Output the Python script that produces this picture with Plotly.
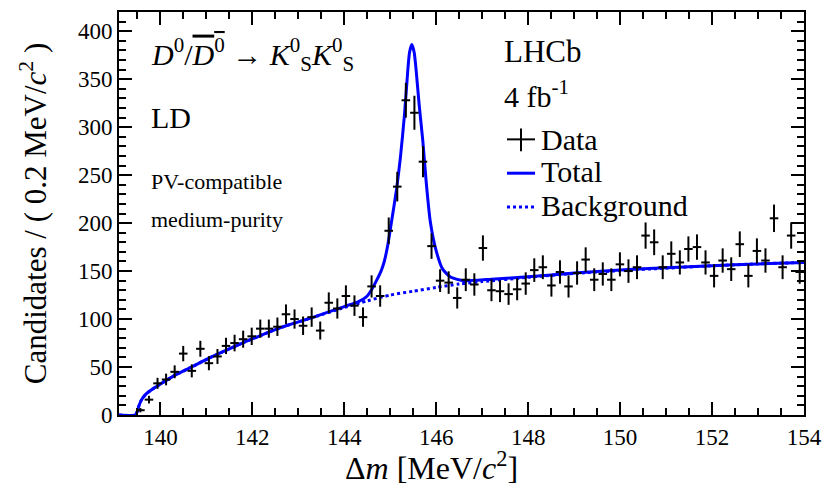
import numpy as np
import plotly.graph_objects as go

# ---------------- data ----------------
bin_low = 139.1
bin_width = 0.18625
first_bin = 2
counts = [5, 16, 33, 37, 45, 64, 46, 69, 54, 61,
          72, 75, 79, 82, 90, 90, 92, 105, 100, 93,
          102, 88, 117, 111, 124, 114, 102, 134, 124, 192,
          238, 328, 315, 264, 176, 140, 138, 122, 141, 136,
          174, 130, 129, 126, 131, 137, 151, 154, 135, 149,
          134, 148, 162, 141, 147, 141, 157, 150, 154, 187,
          180, 154, 168, 159, 173, 175, 159, 145, 161, 152,
          178, 145, 171, 161, 205, 154, 187, 149]

bkg_x = [139.1, 139.45, 139.5, 139.53, 139.58, 139.67, 139.8, 139.96, 140.32, 140.68,
         141.05, 141.41, 141.78, 142.14, 142.5, 142.8, 143.27, 144.0, 144.5, 145.0,
         145.5, 146.0, 146.5, 147.0, 148.0, 149.0, 150.0, 151.0, 152.0, 153.0, 154.0]
bkg_y = [0, 0, 4, 9, 15, 21, 26, 31, 41.5, 50,
         59, 67, 75, 82, 89, 94, 101, 112, 119, 125,
         129, 133, 136.5, 139, 143.5, 147.5, 150.5, 153, 155.5, 157.5, 159]

tot_x = [139.1, 139.45, 139.5, 139.53, 139.58, 139.67, 139.8, 139.96, 140.32, 140.68,
         141.05, 141.41, 141.78, 142.14, 142.5, 142.8, 143.27, 144.0, 144.3, 144.5,
         144.6, 144.7, 144.8, 144.87, 144.95, 145.02, 145.13, 145.22, 145.31, 145.38,
         145.42, 145.47, 145.52, 145.56, 145.63, 145.71, 145.78, 145.87, 146.0, 146.14,
         146.32, 146.6, 146.9, 147.2, 148.0, 149.0, 150.0, 151.0, 152.0, 153.0, 154.0]
tot_y = [0, 0, 4, 9, 15, 21, 26, 31, 41.5, 50,
         59, 67, 75, 82, 89, 94, 101, 113, 118, 124,
         131, 140, 150, 160, 178, 199, 233, 268, 313, 358,
         378, 386, 378, 361, 323, 285, 244, 202, 171, 152,
         143.5, 140, 140.5, 141.5, 144, 148, 151, 153.5, 155.5, 157.5, 159]

x_ticks = [140, 142, 144, 146, 148, 150, 152, 154]
y_ticks = [0, 50, 100, 150, 200, 250, 300, 350, 400]

# ---------------- figure ----------------
counts_arr = np.array(counts, dtype=float)
centers = bin_low + bin_width * (np.arange(len(counts)) + first_bin + 0.5)
errs = np.sqrt(counts_arr)

FONT = "Liberation Serif"
BLUE = "#0000ff"

fig = go.Figure()
fig.add_trace(go.Scatter(x=bkg_x, y=bkg_y, mode="lines",
                         line=dict(color=BLUE, width=3, dash="dot", shape="spline", smoothing=0.6),
                         showlegend=False, hoverinfo="skip"))
fig.add_trace(go.Scatter(x=tot_x, y=tot_y, mode="lines",
                         line=dict(color=BLUE, width=3, shape="spline", smoothing=0.6),
                         showlegend=False, hoverinfo="skip"))
fig.add_trace(go.Scatter(x=centers, y=counts_arr, mode="markers",
                         marker=dict(color="black", size=2),
                         error_y=dict(type="data", array=errs, color="black", thickness=2, width=0),
                         error_x=dict(type="constant", value=bin_width / 2, color="black", thickness=2, width=0),
                         showlegend=False))

L, R, T, B = 119, 33, 10, 81
W, H = 837, 496
PW, PH = W - L - R, H - T - B


def px(xp):
    return (xp - L) / PW


def py(yp):
    return (H - B - yp) / PH


ann = []


def add_text(text, xp, yp, size, anchor="left"):
    ann.append(dict(text=text, x=px(xp), y=py(yp), xref="paper", yref="paper",
                    xanchor=anchor, yanchor="middle", showarrow=False,
                    font=dict(family=FONT, size=size, color="black")))


add_text("<i>D</i><sup>0</sup>/<span style='text-decoration:overline'><i>D</i><sup>0</sup></span>"
         " → <i>K</i><sup>0</sup><sub>S</sub><i>K</i><sup>0</sup><sub>S</sub>", 149, 53, 30)
add_text("LD", 149, 116, 30)
add_text("PV-compatible", 149, 180, 22)
add_text("medium-purity", 149, 219, 22)
add_text("LHCb", 502, 50, 31)
add_text("4 fb<sup>-1</sup>", 502, 92, 30)
add_text("Data", 539, 138, 30)
add_text("Total", 539, 170, 30)
add_text("Background", 539, 204, 30)
# x-axis title
add_text("Δ<i>m</i> [MeV/<i>c</i><sup>2</sup>]", 431, 466, 32, anchor="center")

shapes = [
    dict(type="line", xref="paper", yref="paper", x0=px(507), x1=px(535), y0=py(138), y1=py(138),
         line=dict(color="black", width=2)),
    dict(type="line", xref="paper", yref="paper", x0=px(521), x1=px(521), y0=py(127), y1=py(150),
         line=dict(color="black", width=2)),
    dict(type="line", xref="paper", yref="paper", x0=px(507), x1=px(535), y0=py(172), y1=py(172),
         line=dict(color=BLUE, width=3)),
    dict(type="line", xref="paper", yref="paper", x0=px(507), x1=px(535), y0=py(206), y1=py(206),
         line=dict(color=BLUE, width=3, dash="dot")),
]

axis_common = dict(showline=True, linecolor="black", linewidth=2, mirror="ticks",
                   ticks="inside", tickcolor="black", tickwidth=1.5, ticklen=13,
                   showgrid=False, zeroline=False,
                   tickfont=dict(family=FONT, size=23, color="black"))

fig.update_layout(
    width=W, height=H,
    margin=dict(l=L, r=R, t=T, b=B),
    paper_bgcolor="white", plot_bgcolor="white",
    annotations=ann, shapes=shapes,
    xaxis=dict(range=[139.1, 154], tickvals=x_ticks,
               minor=dict(dtick=0.5, tick0=140, ticks="inside", ticklen=7, tickcolor="black", tickwidth=1.5),
               **axis_common),
    yaxis=dict(range=[0, 420], tickvals=y_ticks,
               minor=dict(dtick=10, tick0=0, ticks="inside", ticklen=7, tickcolor="black", tickwidth=1.5),
               title=dict(text="Candidates / ( 0.2 MeV/<i>c</i><sup>2</sup> )", standoff=22,
                          font=dict(family=FONT, size=31, color="black")),
               **axis_common),
)

fig.write_html("out.html")
